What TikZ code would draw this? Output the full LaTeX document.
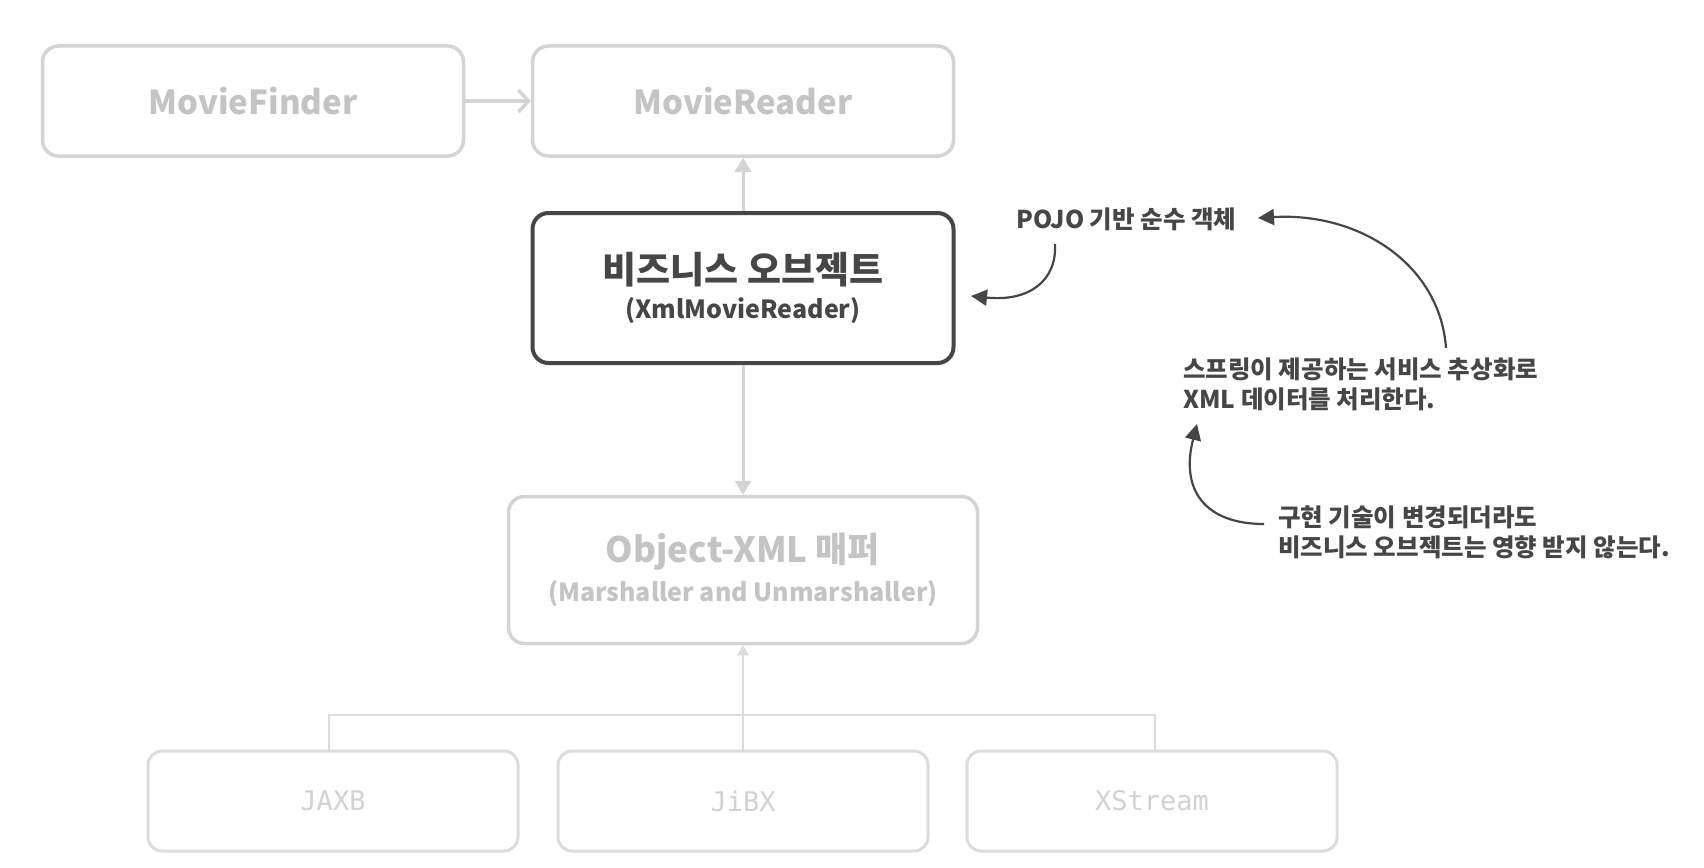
\documentclass[tikz,border=0pt]{standalone}
\usepackage{fontspec}
\setmainfont{Noto Sans CJK KR}
\setmonofont{DejaVu Sans Mono}
\usetikzlibrary{arrows.meta}
\definecolor{lightbox}{HTML}{D4D4D4}
\definecolor{lighttext}{HTML}{C4C4C4}
\definecolor{paletext}{HTML}{D2D2D2}
\definecolor{palebox}{HTML}{DCDCDC}
\definecolor{darkbox}{HTML}{464646}
\definecolor{notetext}{HTML}{464646}
\tikzset{
  greybox/.style={draw=lightbox, line width=3.5pt, rounded corners=16pt, minimum width=#1, align=center, text=lighttext, inner sep=0pt},
  palebox/.style={draw=palebox, line width=3pt, rounded corners=14pt, minimum width=370pt, minimum height=100pt, text=paletext, inner sep=0pt, font=\ttfamily\fontsize{27}{30}\selectfont},
  mainbox/.style={draw=darkbox, line width=4pt, rounded corners=16pt, minimum width=421pt, minimum height=150pt, align=center, text=darkbox, inner sep=0pt},
  note/.style={text=notetext, align=left, anchor=west, inner sep=0pt, font=\bfseries\fontsize{24.5}{30}\selectfont},
  greyarrow/.style={draw=lightbox, line width=3.5pt, -{Straight Barb[length=10pt,width=22pt,line width=3.5pt]}},
  greytri/.style={draw=lightbox, line width=3pt, -{Triangle[length=14pt,width=16pt]}},
  notearrow/.style={draw=notetext, line width=2.2pt, -{Triangle[length=16pt,width=16pt]}},
  thinline/.style={draw=palebox, line width=2.5pt}
}
\begin{document}
\begin{tikzpicture}[x=1pt,y=-1pt]
\useasboundingbox (0,0) rectangle (1704,867);
\fill[white] (0,0) rectangle (1704,867);

% top boxes
\node[greybox=421pt, minimum height=110pt, font=\bfseries\fontsize{33}{38}\selectfont] (finder) at (253,101) {MovieFinder};
\node[greybox=421pt, minimum height=110pt, font=\bfseries\fontsize{33}{38}\selectfont] (reader) at (743,101) {MovieReader};

% business object
\node[mainbox] (biz) at (743,288) {{\bfseries\fontsize{37}{40}\selectfont 비즈니스 오브젝트}\\[9pt]{\bfseries\fontsize{25}{30}\selectfont (XmlMovieReader)}};

% mapper
\node[greybox=469pt, minimum height=147pt] (mapper) at (743,570) {{\bfseries\fontsize{35}{40}\selectfont Object-XML 매퍼}\\[9pt]{\bfseries\fontsize{25}{30}\selectfont (Marshaller and Unmarshaller)}};

% bottom boxes
\node[palebox] (jaxb) at (333,801) {JAXB};
\node[palebox] (jibx) at (743,801) {JiBX};
\node[palebox] (xstream) at (1152,801) {XStream};

% connectors
\draw[greyarrow] (finder.east) -- (reader.west);
\draw[greytri] (biz.north) -- (reader.south);
\draw[greytri] (biz.south) -- (mapper.north);
\coordinate (hl) at (329,715);
\coordinate (hr) at (1155,715);
\draw[thinline] (jaxb.north -| hl) |- (hr) -- (xstream.north -| hr);
\draw[thinline, -{Triangle[length=10pt,width=12pt]}] (jibx.north) -- (mapper.south);

% notes
\node[note] (pojo) at (1016,219) {POJO 기반 순수 객체};
\node[note] (spring) at (1183,384) {스프링이 제공하는 서비스 추상화로\\XML 데이터를 처리한다.};
\node[note] (impl) at (1278,532) {구현 기술이 변경되더라도\\비즈니스 오브젝트는 영향 받지 않는다.};

\coordinate (pojoStart) at (1055,244);
\coordinate (pojoEnd) at (971,296);
\draw[notearrow] (pojoStart) .. controls (1057,280) and (1030,302) .. (pojoEnd);

\coordinate (springStart) at (1446,348);
\coordinate (springEnd) at (1258,218);
\draw[notearrow] (springStart) .. controls (1440,265) and (1360,212) .. (springEnd);

\coordinate (implStart) at (1264,524);
\coordinate (implEnd) at (1197,424);
\draw[notearrow] (implStart) .. controls (1205,524) and (1180,490) .. (implEnd);
\end{tikzpicture}
\end{document}
